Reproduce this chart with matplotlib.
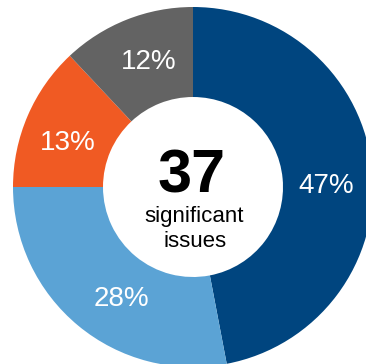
import numpy as np
import matplotlib.pyplot as plt

shares = [47, 28, 13, 12]
labels = ['47%', '28%', '13%', '12%']
colors = ['#00457F', '#5BA3D5', '#F05A23', '#636363']
total_issues = 37
caption = ['significant', 'issues']

plt.rcParams['font.family'] = ['Liberation Sans', 'DejaVu Sans']

fig = plt.figure(figsize=(3.66, 3.64), dpi=100)
ax = fig.add_axes([0, 0, 1, 1])

wedges, texts = ax.pie(shares, colors=colors, startangle=90, counterclock=False,
                       radius=1.0, wedgeprops=dict(width=0.5, linewidth=0))

# labels sit in the ring, nudged a little off the wedge middle like the original
nudge = [5, -7, -4, 2]
for w, lab, dn in zip(wedges, labels, nudge):
    ang = np.deg2rad((w.theta1 + w.theta2) / 2 - dn)
    ax.text(0.74 * np.cos(ang), 0.74 * np.sin(ang), lab, color='white',
            fontsize=20, ha='center', va='center')

ax.text(-0.006, -0.033, str(total_issues), fontsize=44, fontweight='bold',
        ha='center', va='baseline', color='black')
ax.text(0.006, -0.195, caption[0], fontsize=16, ha='center', va='baseline')
ax.text(0.012, -0.333, caption[1], fontsize=16, ha='center', va='baseline')

# centre of the donut at (193, 187) px, radius 180 px
s = 180.0
ax.set_xlim(-193 / s, (366 - 193) / s)
ax.set_ylim(-(364 - 187) / s, 187 / s)
ax.set_aspect('auto')
ax.axis('off')

fig.savefig('out.png', dpi=100)
